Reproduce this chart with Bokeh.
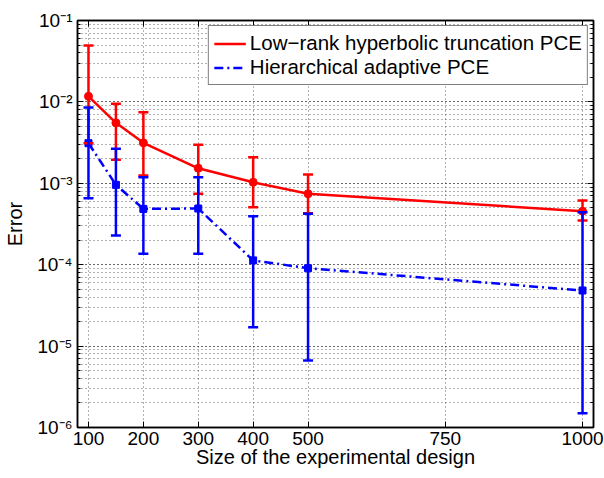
from bokeh.plotting import figure
from bokeh.models import (ColumnDataSource, Whisker, TeeHead, FixedTicker, LogTicker,
                          LogAxis, LinearAxis, CustomJSTickFormatter, Legend, LegendItem, Range1d)
from bokeh.embed import file_html
from bokeh.resources import INLINE

# ---- data ----
sizes = [100, 150, 200, 300, 400, 500, 1000]
lowrank_mean = [0.0117, 0.00553, 0.00314, 0.00153, 0.00103, 0.000743, 0.000454]
lowrank_upper = [0.0493, 0.00946, 0.00748, 0.00297, 0.00209, 0.00128, 0.000615]
lowrank_lower = [0.0031, 0.00194, 0.00125, 0.000743, 0.000509, 0.00043, 0.000349]
hier_mean = [0.00311, 0.000957, 0.000485, 0.00049, 0.000113, 0.0000906, 0.0000482]
hier_upper = [0.00853, 0.00265, 0.00119, 0.00119, 0.000394, 0.000422, 0.00044]
hier_lower = [0.000656, 0.000229, 0.000136, 0.000136, 0.0000171, 0.00000665, 0.0000015]
x_ticks = [100, 200, 300, 400, 500, 750, 1000]
label_lowrank = "Low\u2212rank hyperbolic truncation PCE"
label_hier = "Hierarchical adaptive PCE"

FONT = "Liberation Sans"
RED = "#ff0000"
BLUE = "#0000ff"

p = figure(width=604, height=478, x_range=Range1d(80, 1020), y_range=Range1d(1e-6, 1e-1),
           y_axis_type="log", output_backend="svg", toolbar_location=None,
           min_border_left=77, min_border_right=11, min_border_top=20, min_border_bottom=51)
p.background_fill_color = "white"
p.border_fill_color = "white"
p.outline_line_color = "black"
p.outline_line_width = 1.5

sup_code = r"""
const e = Math.round(Math.log10(tick));
const m = {'-':'\u207b','0':'\u2070','1':'\u00b9','2':'\u00b2','3':'\u00b3','4':'\u2074',
           '5':'\u2075','6':'\u2076','7':'\u2077','8':'\u2078','9':'\u2079'};
return '10' + String(e).split('').map(c => m[c]).join('');
"""

# x axis
xa = p.xaxis[0]
xa.ticker = FixedTicker(ticks=x_ticks, minor_ticks=[])
xa.axis_label = "Size of the experimental design"
# y axis
ya = p.yaxis[0]
ya.ticker = LogTicker(num_minor_ticks=10)
ya.formatter = CustomJSTickFormatter(code=sup_code)
ya.axis_label = "Error"

for ax in (xa, ya):
    ax.axis_label_text_font = FONT
    ax.axis_label_text_font_size = "20px"
    ax.axis_label_text_font_style = "normal"
    ax.axis_label_text_color = "black"
    ax.major_label_text_font = FONT
    ax.major_label_text_font_size = "19px"
    ax.major_label_text_color = "black"
    ax.axis_line_color = "black"
    ax.axis_line_width = 1.5
    ax.major_tick_in = 6
    ax.major_tick_out = 0
    ax.minor_tick_in = 3
    ax.minor_tick_out = 0
    ax.major_tick_line_width = 1
xa.major_label_standoff = 4
xa.axis_label_standoff = -2
ya.major_label_standoff = 5
ya.axis_label_standoff = 8

# mirrored axes (ticks only)
top = LinearAxis(ticker=FixedTicker(ticks=x_ticks, minor_ticks=[]),
                 formatter=CustomJSTickFormatter(code="return ''"),
                 major_tick_in=6, major_tick_out=0, minor_tick_in=0, minor_tick_out=0,
                 major_label_standoff=0, axis_line_width=1.5)
right = LogAxis(ticker=LogTicker(num_minor_ticks=10),
                formatter=CustomJSTickFormatter(code="return ''"),
                major_tick_in=6, major_tick_out=0, minor_tick_in=3, minor_tick_out=0,
                major_label_standoff=0, axis_line_width=1.5)
p.add_layout(top, "above")
p.add_layout(right, "right")

# grids
p.xgrid.ticker = FixedTicker(ticks=x_ticks, minor_ticks=[])
for g in (p.xgrid[0], p.ygrid[0]):
    g.grid_line_color = "#404040"
    g.grid_line_alpha = 0.8
    g.grid_line_dash = "1 3"
    g.grid_line_width = 1
p.ygrid.minor_grid_line_color = "#404040"
p.ygrid.minor_grid_line_alpha = 0.8
p.ygrid.minor_grid_line_dash = "1 3"

src_r = ColumnDataSource(dict(x=sizes, y=lowrank_mean, up=lowrank_upper, lo=lowrank_lower))
src_b = ColumnDataSource(dict(x=sizes, y=hier_mean, up=hier_upper, lo=hier_lower))

# red series
wr = Whisker(source=src_r, base="x", upper="up", lower="lo", line_color=RED, line_width=2.5,
             upper_head=TeeHead(size=10, line_color=RED, line_width=2.5),
             lower_head=TeeHead(size=10, line_color=RED, line_width=2.5), level="glyph")
p.add_layout(wr)
lr = p.line("x", "y", source=src_r, line_color=RED, line_width=2.5)
mr = p.scatter("x", "y", source=src_r, marker="circle", size=8, fill_color=RED, line_color=RED)

# blue series
wb = Whisker(source=src_b, base="x", upper="up", lower="lo", line_color=BLUE, line_width=2.5,
             upper_head=TeeHead(size=10, line_color=BLUE, line_width=2.5),
             lower_head=TeeHead(size=10, line_color=BLUE, line_width=2.5), level="glyph")
p.add_layout(wb)
lb = p.line("x", "y", source=src_b, line_color=BLUE, line_width=2.5, line_dash="9 4 2 4")
mb = p.scatter("x", "y", source=src_b, marker="square", size=7, fill_color=BLUE, line_color=BLUE)

# legend-only marker glyphs (smaller, as in the reference legend)
lgr = p.scatter(x=[], y=[], marker="circle", size=5, fill_color="#ffb0b0", line_color=RED, line_width=1.5)
lgb = p.scatter(x=[], y=[], marker="square", size=5, fill_color=BLUE, line_color=BLUE, line_width=1.5)

legend = Legend(items=[LegendItem(label=label_lowrank, renderers=[lr, lgr]),
                       LegendItem(label=label_hier, renderers=[lb, lgb])],
                location="top_right", margin=5, padding=5, spacing=0,
                glyph_width=32, glyph_height=23, label_height=23, label_standoff=4,
                label_text_font=FONT, label_text_font_size="20.5px", label_text_color="black",
                border_line_color="black", border_line_width=1,
                background_fill_color="white", background_fill_alpha=1)
p.add_layout(legend)

open("out.html", "w").write(file_html(p, INLINE))
